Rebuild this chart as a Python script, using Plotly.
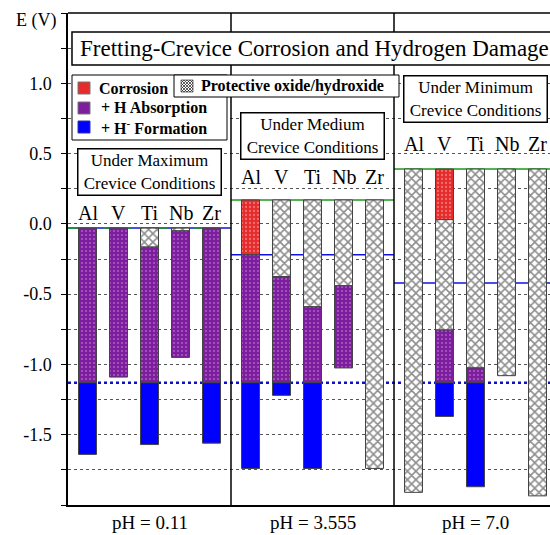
import plotly.graph_objects as go

# ---------------- data ----------------
groups = ["pH = 0.11", "pH = 3.555", "pH = 7.0"]
elements = ["Al", "V", "Ti", "Nb", "Zr"]

bar_top = [-0.03, 0.17, 0.39]          # upper limit of the bars (green line)
h_line = [-0.03, -0.22, -0.42]         # blue solid line per pH
hydride_line = -1.13                   # blue dotted line

# lower edge of each layer (per pH group, per element)
corrosion_end = [
    [-0.03, -0.03, -0.03, -0.03, -0.03],
    [-0.22, 0.17, 0.17, 0.17, 0.17],
    [0.39, 0.03, 0.39, 0.39, 0.39],
]
oxide_end = [
    [-0.03, -0.03, -0.165, -0.05, -0.03],
    [-0.22, -0.375, -0.59, -0.44, -1.74],
    [-1.91, -0.755, -1.025, -1.08, -1.935],
]
absorption_end = [
    [-1.13, -1.09, -1.13, -0.95, -1.13],
    [-1.13, -1.13, -1.13, -1.025, -1.74],
    [-1.91, -1.13, -1.13, -1.08, -1.935],
]
formation_end = [
    [-1.64, -1.09, -1.57, -0.95, -1.56],
    [-1.74, -1.22, -1.74, -1.025, -1.74],
    [-1.91, -1.37, -1.87, -1.08, -1.935],
]

y_tickvals = [-1.5, -1.0, -0.5, 0.0, 0.5, 1.0]
y_ticktext = ["-1.5", "-1.0", "-0.5", "0.0", "0.5", "1.0"]

layer_names = ["Corrosion", "Protective oxide/hydroxide", "+ H Absorption", "+ H<sup>-</sup> Formation"]
layer_ends = [corrosion_end, oxide_end, absorption_end, formation_end]

# ---------------- styles ----------------
FONT = "Liberation Serif"
SPACING = 31 / 163.0
BAR_W = 18 / 163.0
RED, PURPLE, BLUE = "#E52B2B", "#7D1E9E", "#0000FF"
styles = {
    "Corrosion": dict(color=RED,
                      pattern=dict(shape=".", bgcolor=RED, fgcolor="#FFB3B3", size=4, solidity=0.25)),
    "Protective oxide/hydroxide": dict(color="white",
                      pattern=dict(shape="x", bgcolor="white", fgcolor="#1A1A1A", size=6, solidity=0.45)),
    "+ H Absorption": dict(color=PURPLE,
                      pattern=dict(shape=".", bgcolor=PURPLE, fgcolor="#D9A6E6", size=4, solidity=0.2)),
    "+ H<sup>-</sup> Formation": dict(color=BLUE),
}

# plot-area geometry (pixels) used for placing legend decorations
L, T, PW, PH = 68, 13, 482, 492


def xp(px):
    return (px - L) / PW


def yp(py):
    return 1 - (py - T) / PH


def xpos(g, i):
    return g + 0.5 + (i - 2) * SPACING


fig = go.Figure()

for k, name in enumerate(layer_names):
    xs, bases, ys = [], [], []
    for g in range(len(groups)):
        for i in range(len(elements)):
            start = bar_top[g] if k == 0 else layer_ends[k - 1][g][i]
            end = layer_ends[k][g][i]
            if start - end > 1e-9:
                xs.append(xpos(g, i))
                bases.append(start)
                ys.append(end - start)
    st = styles[name]
    marker = dict(color=st["color"], line=dict(color="#444444", width=1))
    if "pattern" in st:
        marker["pattern"] = st["pattern"]
    fig.add_trace(go.Bar(x=xs, y=ys, base=bases, width=BAR_W, name=name,
                         marker=marker, showlegend=False))

shapes = []
# reference lines behind bars
for g in range(len(groups)):
    shapes.append(dict(type="line", xref="x", yref="y", x0=g, x1=g + 1, y0=h_line[g], y1=h_line[g],
                       line=dict(color="#1010E0", width=1.5), layer="between"))
    shapes.append(dict(type="line", xref="x", yref="y", x0=g, x1=g + 1, y0=bar_top[g], y1=bar_top[g],
                       line=dict(color="#1A9A1A", width=1.5, dash="dash" if g == 0 else "solid"),
                       layer="between"))
shapes.append(dict(type="line", xref="paper", yref="y", x0=0, x1=1, y0=hydride_line, y1=hydride_line,
                   line=dict(color="#1010C8", width=2.5, dash="dot"), layer="between"))
# group separators and top border
for g in range(1, len(groups)):
    shapes.append(dict(type="line", xref="x", yref="paper", x0=g, x1=g, y0=0, y1=1,
                       line=dict(color="black", width=1.5), layer="above"))
shapes.append(dict(type="line", xref="paper", yref="paper", x0=0, x1=1, y0=1, y1=1,
                   line=dict(color="black", width=1.5), layer="above"))
# title box (runs off the right edge)
shapes.append(dict(type="rect", xref="x", yref="y", x0=0.0245, x1=3.2, y0=1.130, y1=1.365,
                   line=dict(color="black", width=1.5), fillcolor="white", layer="above"))

# ---- hand-built legend (two boxes) ----
def prect(x0, y0, x1, y1, fill, line_color="black", lw=1):
    return dict(type="rect", xref="paper", yref="paper", x0=xp(x0), x1=xp(x1), y0=yp(y1), y1=yp(y0),
                fillcolor=fill, line=dict(color=line_color, width=lw), layer="above")


shapes.append(prect(72, 75, 227, 140, "white"))
shapes.append(prect(174, 75, 399, 97, "white"))
shapes.append(prect(78, 82, 90, 94, RED, "#777777"))
shapes.append(prect(78, 102, 90, 114, PURPLE, "#777777"))
shapes.append(prect(78, 121, 90, 133, BLUE, "#3333AA"))
shapes.append(prect(181, 80, 193, 92, "white", "#777777"))
# crosshatch inside the oxide swatch
hx0, hy0, hs = 181, 80, 12
segs = []
for c in range(-9, 10, 3):
    if c >= 0:
        segs.append(((c, 0), (hs, hs - c)))
    else:
        segs.append(((0, -c), (hs + c, hs)))
for s in range(3, 22, 3):
    if s <= hs:
        segs.append(((s, 0), (0, s)))
    else:
        segs.append(((hs, s - hs), (s - hs, hs)))
path = " ".join("M{:.5f},{:.5f} L{:.5f},{:.5f}".format(xp(hx0 + a[0]), yp(hy0 + a[1]),
                                                       xp(hx0 + b[0]), yp(hy0 + b[1])) for a, b in segs)
shapes.append(dict(type="path", xref="paper", yref="paper", path=path,
                   line=dict(color="#333333", width=0.8), layer="above"))

annotations = []
legend_font = dict(family=FONT, size=16, color="black", weight="bold")
legend_items = [("Corrosion", 97, 88), ("+ H Absorption", 99, 108),
                ("+ H<sup>-</sup> Formation", 99, 127), ("Protective oxide/hydroxide", 199, 86)]
for text, lx, ly in legend_items:
    annotations.append(dict(text=text, xref="paper", yref="paper", x=xp(lx), y=yp(ly),
                            xanchor="left", yanchor="middle", showarrow=False, font=legend_font))

annotations.append(dict(text="Fretting-Crevice Corrosion and Hydrogen Damage", xref="x", yref="y",
                        x=0.061, y=1.248, xanchor="left", yanchor="middle", showarrow=False,
                        font=dict(family=FONT, size=23, color="black")))
annotations.append(dict(text="E (V)", xref="paper", yref="paper", x=xp(36), y=yp(20),
                        xanchor="center", yanchor="middle", showarrow=False,
                        font=dict(family=FONT, size=18, color="black")))
for g, label in enumerate(groups):
    annotations.append(dict(text=label, xref="x", yref="paper", x=g + 0.5, y=yp(522),
                            xanchor="center", yanchor="middle", showarrow=False,
                            font=dict(family=FONT, size=19, color="black")))

label_shift = [15, 23, 25]
for g in range(len(groups)):
    for i, el in enumerate(elements):
        annotations.append(dict(text=el, xref="x", yref="y", x=xpos(g, i), y=bar_top[g],
                                xanchor="center", yanchor="middle", yshift=label_shift[g],
                                showarrow=False, font=dict(family=FONT, size=20, color="black")))

cond_boxes = [("Under Maximum<br>Crevice Conditions", 0.5, 0.372),
              ("Under Medium<br>Crevice Conditions", 1.5, 0.625),
              ("Under Minimum<br>Crevice Conditions", 2.5, 0.888)]
for text, xc, yc in cond_boxes:
    annotations.append(dict(text=text, xref="x", yref="y", x=xc, y=yc, xanchor="center", yanchor="middle",
                            showarrow=False, bordercolor="black", borderwidth=1.5, bgcolor="white",
                            width=140, height=43, borderpad=1,
                            font=dict(family=FONT, size=17, color="black")))

fig.update_layout(
    width=550, height=535,
    margin=dict(l=L, r=550 - L - PW, t=T, b=535 - T - PH),
    paper_bgcolor="white", plot_bgcolor="white",
    barmode="overlay",
    showlegend=False,
    xaxis=dict(range=[0, 482 / 163.0], showticklabels=False, ticks="", showgrid=False,
               zeroline=False, showline=True, linecolor="black", linewidth=1.5, fixedrange=True),
    yaxis=dict(range=[-2.0, 1.5], tickmode="array", tickvals=y_tickvals, ticktext=y_ticktext,
               ticks="outside", ticklen=5, tickcolor="black", showgrid=True, gridcolor="#555555",
               gridwidth=1, griddash="dot", zeroline=False, showline=True, linecolor="black",
               linewidth=1.5, tickfont=dict(family=FONT, size=18, color="black"),
               ticklabelstandoff=6, fixedrange=True,
               minor=dict(dtick=0.25, tick0=0, showgrid=True, gridcolor="#555555", gridwidth=1,
                          griddash="dot", ticks="outside", ticklen=5, tickcolor="black")),
    shapes=shapes,
    annotations=annotations,
)

fig.write_html("out.html", config={"displayModeBar": False},
               post_script="document.body.style.margin='0';document.body.style.overflow='hidden';")
